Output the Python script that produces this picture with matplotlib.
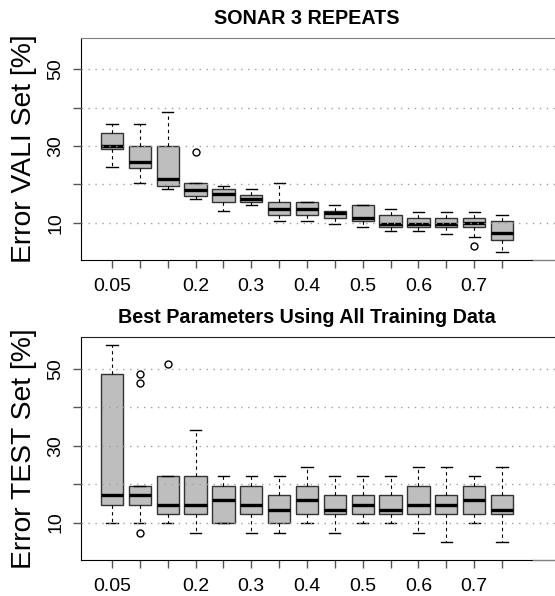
import matplotlib
matplotlib.use('Agg')
import matplotlib.pyplot as plt

plt.rcParams['font.family'] = ['Liberation Sans', 'DejaVu Sans']

# ---------------- data ----------------
categories = [0.05, 0.1, 0.15, 0.2, 0.25, 0.3, 0.35, 0.4, 0.45, 0.5,
              0.55, 0.6, 0.65, 0.7, 0.75]
xtick_labels = ['0.05', '', '', '0.2', '', '0.3', '', '0.4', '', '0.5',
                '', '0.6', '', '0.7', '']
yticks = [10, 20, 30, 40, 50]
ytick_labels = ['10', '', '30', '', '50']

# Panel 1: validation error
vali_whislo = [24.4, 20.3, 18.7, 16.2, 13.0, 14.5, 10.5, 10.4, 9.7, 8.9, 7.9, 7.9, 7.1, 6.2, 2.4]
vali_q1     = [29.1, 24.3, 19.5, 17.0, 15.3, 15.3, 12.1, 12.1, 11.3, 10.4, 8.8, 8.8, 8.8, 8.8, 5.5]
vali_med    = [30.0, 25.9, 21.5, 18.4, 17.5, 16.3, 13.5, 13.7, 12.4, 11.3, 9.6, 9.6, 9.6, 10.0, 7.3]
vali_q3     = [33.3, 30.0, 30.0, 20.3, 18.7, 17.1, 15.5, 15.4, 13.0, 14.6, 12.1, 11.2, 11.2, 11.2, 10.4]
vali_whishi = [35.7, 35.7, 38.9, 20.3, 19.5, 18.7, 20.3, 15.4, 14.6, 14.6, 13.7, 12.8, 12.8, 12.8, 12.1]
vali_fliers = [[], [], [], [28.4], [], [], [], [], [], [], [], [], [], [3.8], []]

# Panel 2: test error
test_whislo = [9.8, 9.8, 9.8, 7.4, 9.8, 7.4, 7.4, 9.8, 7.4, 9.8, 9.8, 7.4, 5.0, 9.8, 5.0]
test_q1     = [14.6, 14.6, 12.2, 12.2, 9.8, 12.2, 9.8, 12.2, 12.2, 12.2, 12.2, 12.2, 12.2, 12.2, 12.2]
test_med    = [17.1, 17.1, 14.6, 14.6, 15.9, 14.6, 13.4, 15.9, 13.4, 14.6, 13.4, 14.6, 14.6, 15.9, 13.4]
test_q3     = [48.8, 19.5, 22.0, 22.0, 19.5, 19.5, 17.1, 19.5, 17.1, 17.1, 17.1, 19.5, 17.1, 19.5, 17.1]
test_whishi = [56.1, 19.5, 22.0, 34.2, 22.0, 22.0, 22.0, 24.4, 22.0, 22.0, 22.0, 24.4, 24.4, 22.0, 24.4]
test_fliers = [[], [48.7, 46.3, 7.4], [51.2], [], [], [], [], [], [], [], [], [], [], [], []]

titles = ['SONAR 3 REPEATS', 'Best Parameters Using All Training Data']
ylabels = ['Error VALI Set [%]', 'Error TEST Set [%]']


def make_stats(lo, q1, med, q3, hi, fl):
    return [dict(whislo=a, q1=b, med=c, q3=d, whishi=e, fliers=f)
            for a, b, c, d, e, f in zip(lo, q1, med, q3, hi, fl)]


panels = [
    make_stats(vali_whislo, vali_q1, vali_med, vali_q3, vali_whishi, vali_fliers),
    make_stats(test_whislo, test_q1, test_med, test_q3, test_whishi, test_fliers),
]

W, H = 555, 596
fig = plt.figure(figsize=(W / 100, H / 100), dpi=100)

# layout (pixels)
ax_left_px = 81.0
first_px = 112.0          # centre of first box
step_px = 27.86           # distance between boxes
ax_right_px = 600.0       # frame continues past the right edge of the picture
panel_px = [(37.5, 260.0), (337.0, 560.0)]
title_base_px = [24.0, 323.0]
title_cx_px = 307.0
top_colors = ['#808080', '#222222']

positions = list(range(1, len(categories) + 1))
xlim = (1 - (first_px - ax_left_px) / step_px, 1 + (ax_right_px - first_px) / step_px)
frame_end = len(categories) + 0.5 + 0.04 * len(categories)
ylim = (0.27, 58.3)

for i, stats in enumerate(panels):
    top_px, bot_px = panel_px[i]
    ax = fig.add_axes([ax_left_px / W, 1 - bot_px / H,
                       (ax_right_px - ax_left_px) / W, (bot_px - top_px) / H])
    ax.bxp(stats, positions=positions, widths=0.8, patch_artist=True,
           boxprops=dict(facecolor='#BEBEBE', edgecolor='#333333', linewidth=1.0),
           medianprops=dict(color='black', linewidth=2.4, solid_capstyle='butt'),
           whiskerprops=dict(color='black', linewidth=0.8, linestyle=(0, (3, 3))),
           capprops=dict(color='black', linewidth=1.0),
           flierprops=dict(marker='o', markerfacecolor='none', markeredgecolor='black',
                           markersize=5, markeredgewidth=1.0),
           manage_ticks=False, zorder=2)
    for y in yticks:
        ax.axhline(y, color='#A0A0A0', lw=1.0, linestyle=(0, (1, 4)), zorder=3)

    ax.set_xlim(*xlim)
    ax.set_ylim(*ylim)
    ax.set_xticks(positions)
    ax.set_xticklabels(xtick_labels)
    ax.set_yticks(yticks)
    ax.set_yticklabels(ytick_labels)
    ax.tick_params(axis='both', length=6, width=1, color='#555555',
                   labelsize=14, direction='out')
    ax.tick_params(axis='x', pad=7)
    ax.tick_params(axis='y', pad=6)
    for lab in ax.get_yticklabels():
        lab.set_rotation(90)
        lab.set_va('center')

    ax.spines['right'].set_visible(False)
    ax.spines['top'].set_color(top_colors[i])
    ax.spines['left'].set_color('black')
    ax.spines['bottom'].set_color('black')
    ax.spines['bottom'].set_bounds(xlim[0], frame_end)
    ax.plot([frame_end, xlim[1]], [ylim[0], ylim[0]], color='#808080',
            lw=1.0, clip_on=False, zorder=4)

    fig.text(title_cx_px / W, 1 - title_base_px[i] / H, titles[i], ha='center',
             va='baseline', fontsize=14.2, fontweight='bold')
    fig.text(24.0 / W, 1 - (top_px + bot_px) / 2 / H, ylabels[i], rotation=90,
             ha='center', va='center', fontsize=20.3)

fig.savefig('out.png', dpi=100)
